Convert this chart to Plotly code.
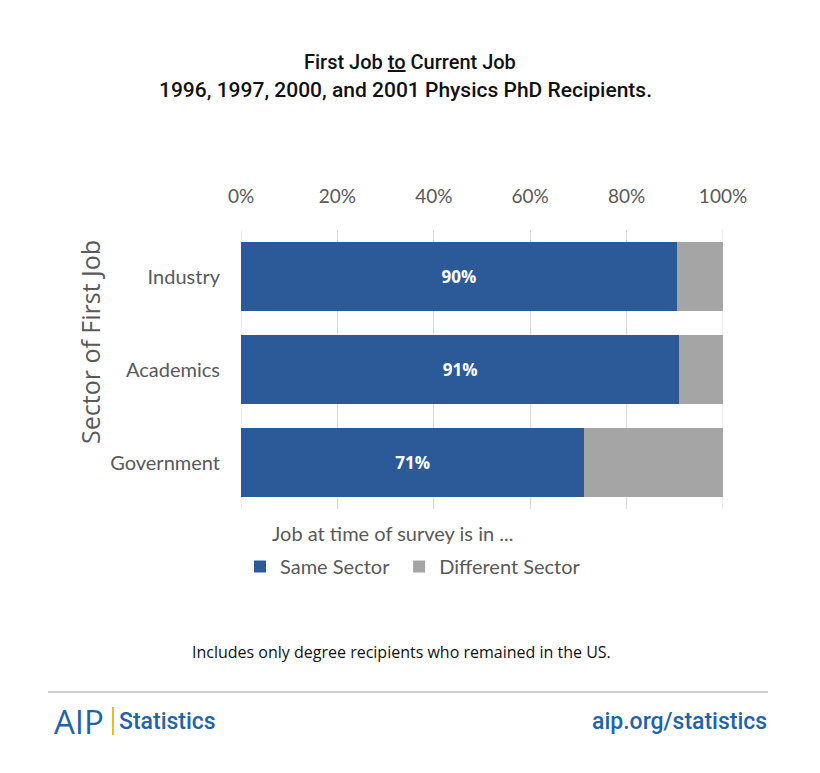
import plotly.graph_objects as go

categories = ["Industry", "Academics", "Government"]
same_sector = [90.4, 90.9, 71.2]
different_sector = [9.6, 9.1, 28.8]
same_labels = ["90%", "91%", "71%"]
tick_vals = [0, 20, 40, 60, 80, 100]
tick_text = ["0%", "20%", "40%", "60%", "80%", "100%"]

BLUE = "#2C5A98"
GREY = "#A5A5A5"
TXT = "#595959"
FONT = "Lato, Open Sans, sans-serif"

L, R, T, B = 241, 723, 230, 509
W, H = 820, 773

def px(x):
    return (x - L) / (R - L)

def py(y):
    return (B - y) / (B - T)

fig = go.Figure()
fig.add_trace(go.Bar(
    y=categories, x=same_sector, orientation="h", name="Same Sector\u00a0",
    marker=dict(color=BLUE, line=dict(width=0)), width=0.74,
    text=same_labels, textposition="inside", insidetextanchor="middle",
    textfont=dict(color="white", size=17, family="Open Sans, sans-serif", weight="bold"),
    hoverinfo="skip",
))
fig.add_trace(go.Bar(
    y=categories, x=different_sector, orientation="h", name="Different Sector",
    marker=dict(color=GREY, line=dict(width=0)), width=0.74,
    hoverinfo="skip",
))

fig.update_layout(
    width=W, height=H, barmode="stack",
    margin=dict(l=L, r=W - R, t=T, b=H - B, pad=0),
    paper_bgcolor="white", plot_bgcolor="white",
    font=dict(family=FONT, color=TXT),
    showlegend=True,
    legend=dict(orientation="h", x=px(240), xanchor="left", y=py(547), yanchor="top",
                font=dict(size=20, color=TXT, family=FONT), itemwidth=30,
                traceorder="normal", itemclick=False),
    xaxis=dict(range=[0, 100], side="top", tickvals=tick_vals, ticktext=tick_text,
               showgrid=True, gridcolor="#D9D9D9", gridwidth=1, zeroline=False,
               showline=False, ticks="", ticklabelstandoff=22,
               tickfont=dict(size=19, color=TXT, family=FONT), fixedrange=True),
    yaxis=dict(categoryorder="array", categoryarray=categories, autorange="reversed",
               showgrid=False, zeroline=False, showline=False, ticks="",
               ticklabelstandoff=20, tickfont=dict(size=20, color=TXT, family=FONT),
               fixedrange=True),
)

# gridlines at the range ends (0% and 100%)
for v in (0, 100):
    fig.add_shape(type="line", xref="x", yref="paper", x0=v, x1=v, y0=0, y1=1,
                  layer="below", line=dict(color="#D9D9D9", width=1))

ann = [
    dict(text="First Job <u>to</u> Current Job", x=px(410), y=py(62),
         font=dict(size=20, color="#111111", family="Roboto, sans-serif", weight=500)),
    dict(text="1996, 1997, 2000, and 2001 Physics PhD Recipients.", x=px(405), y=py(90),
         font=dict(size=21, color="#111111", family="Roboto, sans-serif", weight=500)),
    dict(text="Sector of First Job", x=px(90), y=py(342), textangle=-90,
         font=dict(size=25, color=TXT, family="Open Sans, sans-serif")),
    dict(text="Job at time of survey is in ...", x=px(270), y=py(533), xanchor="left",
         font=dict(size=20, color=TXT, family=FONT)),
    dict(text="Includes only degree recipients who remained in the US.", x=px(401), y=py(652),
         font=dict(size=16, color="#111111", family="Open Sans, sans-serif")),
    dict(text="AIP", x=px(52), y=py(721), xanchor="left",
         font=dict(size=33, color="#1F65A6", family="Open Sans, sans-serif")),
    dict(text="Statistics", x=px(117), y=py(721), xanchor="left",
         font=dict(size=23, color="#1F65A6", family="Roboto, sans-serif", weight=500)),
    dict(text="aip.org/statistics", x=px(769), y=py(721), xanchor="right",
         font=dict(size=23, color="#1F65A6", family="Roboto, sans-serif", weight=500)),
]
for a in ann:
    a.setdefault("xanchor", "center")
    fig.add_annotation(xref="paper", yref="paper", showarrow=False, yanchor="middle", **a)

fig.add_shape(type="line", xref="paper", yref="paper", x0=px(48), x1=px(768),
              y0=py(692), y1=py(692), line=dict(color="#BFBFBF", width=1.5))
fig.add_shape(type="line", xref="paper", yref="paper", x0=px(113), x1=px(113),
              y0=py(707), y1=py(735), line=dict(color="#F2B824", width=2))

fig.write_html("out.html")
